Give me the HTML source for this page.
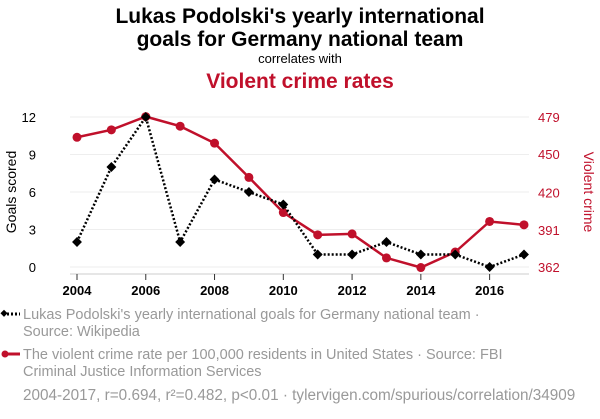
<!DOCTYPE html>
<html><head><meta charset="utf-8"><style>
body{margin:0;background:#fff;width:600px;height:414px;overflow:hidden;font-family:"Liberation Sans",sans-serif}
</style></head><body>
<svg id="c" width="600" height="414" xmlns="http://www.w3.org/2000/svg" font-family="Liberation Sans, sans-serif">
<text x="300" y="23" text-anchor="middle" font-size="21" font-weight="bold" fill="#000">Lukas Podolski's yearly international</text>
<text x="300" y="46" text-anchor="middle" font-size="21" font-weight="bold" fill="#000">goals for Germany national team</text>
<text x="300" y="63" text-anchor="middle" font-size="13" fill="#000">correlates with</text>
<text x="300" y="88" text-anchor="middle" font-size="21" font-weight="bold" fill="#c0102b">Violent crime rates</text>
<g id="grid"></g>
<g id="axes"></g>
<g id="series"></g>
<text transform="translate(16,192) rotate(-90)" text-anchor="middle" font-size="14" fill="#000">Goals scored</text>
<text transform="translate(584,192) rotate(90)" text-anchor="middle" font-size="14" fill="#c0102b">Violent crime</text>
<g>
<line x1="3" y1="314" x2="20" y2="314" stroke="#000" stroke-width="3" stroke-dasharray="2,2"/>
<rect x="1" y="311" width="5" height="5" transform="rotate(45 4 314)" fill="#000"/>
<text x="23" y="319" font-size="14.5" fill="#999">Lukas Podolski's yearly international goals for Germany national team ·</text>
<text x="23" y="336" font-size="14.5" fill="#999">Source: Wikipedia</text>
</g>
<g>
<line x1="3" y1="354" x2="20" y2="354" stroke="#c0102b" stroke-width="3"/>
<circle cx="5" cy="354" r="3.5" fill="#c0102b"/>
<text x="23" y="359" font-size="14.5" fill="#999">The violent crime rate per 100,000 residents in United States · Source: FBI</text>
<text x="23" y="376" font-size="14.5" fill="#999">Criminal Justice Information Services</text>
</g>
<text x="23" y="400" font-size="15.3" fill="#999">2004-2017, r=0.694, r²=0.482, p&lt;0.01 · tylervigen.com/spurious/correlation/34909</text>
</svg>
<script>
const years=[2004,2005,2006,2007,2008,2009,2010,2011,2012,2013,2014,2015,2016,2017];
const goals=[2,8,12,2,7,6,5,1,1,2,1,1,0,1];
const crime=[463.2,469,479.3,471.8,458.6,431.9,404.5,387.1,387.8,369.1,361.6,373.7,397.5,394.9];
const leftTicks=[0,3,6,9,12];
const rightTicks=[362,391,420,450,479];
const xTicks=[2004,2006,2008,2010,2012,2014,2016];
const NS="http://www.w3.org/2000/svg";
const x=v=>77+(v-2004)*(524-77)/13;
const yL=v=>267-v*(150/12);
const yR=v=>267-(v-362)*(150/117);
function mk(t,a,p){const e=document.createElementNS(NS,t);for(const k in a)e.setAttribute(k,a[k]);p.appendChild(e);return e;}
const grid=document.getElementById('grid'),axes=document.getElementById('axes'),ser=document.getElementById('series');
leftTicks.forEach(t=>{
 const g=mk('line',{x1:70,x2:529,y1:yL(t),y2:yL(t),stroke:'#eee','stroke-width':1},grid);
 
 
 const tx=mk('text',{x:36,y:yL(t)+5,'text-anchor':'end','font-size':13,fill:'#000'},axes);tx.textContent=t;
 
 
});
rightTicks.forEach(t=>{
 const tx=mk('text',{x:538,y:yR(t)+5,'font-size':13,fill:'#c0102b'},axes);tx.textContent=t;
 
 
});
const ax=mk('line',{x1:70,x2:529,y1:274,y2:274,stroke:'#ccc','stroke-width':1},axes);


xTicks.forEach(t=>{
 mk('line',{x1:x(t),x2:x(t),y1:274,y2:280,stroke:'#333'},axes);
 const tx=mk('text',{x:x(t),y:295,'text-anchor':'middle','font-size':13,'font-weight':'bold',fill:'#000'},axes);tx.textContent=t;
 
 
});
const cl=mk('polyline',{points:years.map((y,i)=>x(y)+','+yR(crime[i])).join(' '),fill:'none',stroke:'#c0102b','stroke-width':2.5},ser);


years.forEach((y,i)=>{const c=mk('circle',{cx:x(y),cy:yR(crime[i]),r:4.5,fill:'#c0102b'},ser);
 
 });
const gl=mk('polyline',{points:years.map((y,i)=>x(y)+','+yL(goals[i])).join(' '),fill:'none',stroke:'#000','stroke-width':2.5,'stroke-dasharray':'2,2'},ser);


years.forEach((y,i)=>{const cx=x(y),cy=yL(goals[i]);const r=mk('rect',{x:cx-3.5,y:cy-3.5,width:7,height:7,fill:'#000',transform:`rotate(45 ${cx} ${cy})`},ser);
 
 });
</script>
</body></html>
